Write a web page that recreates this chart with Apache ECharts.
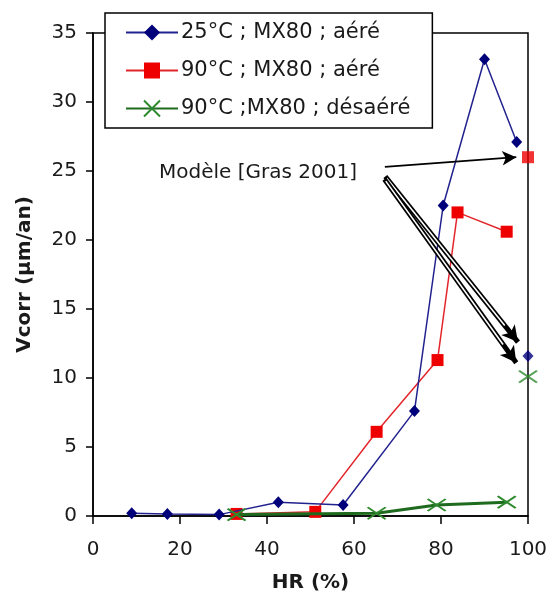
<!DOCTYPE html>
<html>
<head>
<meta charset="utf-8">
<script src="https://cdn.jsdelivr.net/npm/echarts@6/dist/echarts.min.js"></script>
<style>
  html, body { margin: 0; padding: 0; background: #ffffff; }
  #chart { width: 549px; height: 591px; }
</style>
</head>
<body>
<div id="chart"></div>
<script>
// Corrosion rate versus relative humidity, MX80 bentonite
const seriesNames = ['25°C ; MX80 ; aéré', '90°C ; MX80 ; aéré', '90°C ;MX80 ; désaéré'];

// [HR (%), Vcorr (µm/an)]
const blue25Aere = [[8.9, 0.2], [17.1, 0.15], [29, 0.1], [42.6, 1.0], [57.5, 0.8], [73.9, 7.6], [80.5, 22.5], [90, 33.1], [97.4, 27.1]];
const red90Aere = [[33, 0.15], [51.1, 0.3], [65.2, 6.1], [79.2, 11.3], [83.8, 22.0], [95.1, 20.6]];
const green90Desaere = [[33, 0.1], [65.2, 0.2], [79, 0.8], [95.1, 1.0]];

// Model values [Gras 2001] at HR = 100 %
const modelBlue = [[100, 11.6]];
const modelRed = [[100, 26.0]];
const modelGreen = [[100, 10.1]];

const annotationText = 'Modèle [Gras 2001]';
// Arrows from the annotation to the model points, in data units
const arrowToRed = [[67.1, 25.3], [97.3, 26.0]];
const arrowToBlue = [[67.2, 24.6], [97.7, 12.6]];
const arrowToGreen = [[67.0, 24.4], [97.3, 11.1]];

const xTicks = { min: 0, max: 100, interval: 20 };
const yTicks = { min: 0, max: 35, interval: 5 };

const FONT = 'DejaVu Sans';
const INK = '#1a1a1a';
const BLUE_LINE = '#22228f', BLUE_MARK = '#00007a';
const RED_LINE = '#e3262b', RED_MARK = '#ee0000';
const GREEN_LINE = '#1e6a1e', GREEN_MARK = '#2f8a2f';
const X_PATH = 'path://M0,0L12,8M12,0L0,8';

const chart = echarts.init(document.getElementById('chart'), null, { renderer: 'canvas' });

// point a fraction t of the way along an arrow
function along(pair, t) {
  return [pair[0][0] + (pair[1][0] - pair[0][0]) * t, pair[0][1] + (pair[1][1] - pair[0][1]) * t];
}

// Hollow (double-stroke) arrow: thick black shaft, white core, black head
function hollowArrow(pair) {
  return [
    [
      { coord: pair[0], symbol: 'none', lineStyle: { width: 5, color: '#000' } },
      { coord: pair[1], symbol: 'arrow', symbolSize: [13, 16] }
    ],
    [
      { coord: along(pair, 0.01), symbol: 'none', lineStyle: { width: 1.6, color: '#ffffff' } },
      { coord: along(pair, 0.9), symbol: 'none' }
    ]
  ];
}

const option = {
  backgroundColor: '#ffffff',
  animation: false,
  textStyle: { fontFamily: FONT, color: INK },
  grid: {
    left: 93, right: 21, top: 33, bottom: 75,
    outerBoundsMode: 'none', containLabel: false,
    show: true, borderColor: '#000', borderWidth: 1.5, backgroundColor: 'transparent'
  },
  legend: {
    data: seriesNames,
    orient: 'vertical',
    left: 105, top: 13,
    padding: [9, 22, 9, 20],
    itemGap: 17,
    itemWidth: 52, itemHeight: 20,
    backgroundColor: '#ffffff',
    borderColor: '#000', borderWidth: 1.5, borderRadius: 0,
    textStyle: { fontFamily: FONT, fontSize: 21, color: INK, padding: [0, 0, 0, -2] },
    z: 10
  },
  xAxis: {
    type: 'value',
    min: xTicks.min, max: xTicks.max, interval: xTicks.interval,
    name: 'HR (%)', nameLocation: 'middle', nameGap: 57,
    nameTextStyle: { fontFamily: FONT, fontSize: 20, fontWeight: 'bold', color: INK },
    axisLine: { show: true, lineStyle: { color: '#000', width: 1.5 } },
    axisTick: { show: true, length: 8, lineStyle: { color: '#000', width: 1.5 } },
    axisLabel: { fontFamily: FONT, fontSize: 20, color: INK, margin: 24 },
    splitLine: { show: false }
  },
  yAxis: {
    type: 'value',
    min: yTicks.min, max: yTicks.max, interval: yTicks.interval,
    name: 'Vcorr (µm/an)', nameLocation: 'middle', nameGap: 58, nameRotate: 90,
    nameTextStyle: { fontFamily: FONT, fontSize: 20, fontWeight: 'bold', color: INK },
    axisLine: { show: true, lineStyle: { color: '#000', width: 1.5 } },
    axisTick: { show: true, length: 7, lineStyle: { color: '#000', width: 1.5 } },
    axisLabel: { fontFamily: FONT, fontSize: 20, color: INK, margin: 16 },
    splitLine: { show: false }
  },
  series: [
    {
      name: seriesNames[0], type: 'line', data: blue25Aere,
      symbol: 'diamond', symbolSize: [11, 12],
      lineStyle: { color: BLUE_LINE, width: 1.5 },
      itemStyle: { color: BLUE_MARK },
      z: 3
    },
    {
      name: seriesNames[1], type: 'line', data: red90Aere,
      symbol: 'rect', symbolSize: 12,
      lineStyle: { color: RED_LINE, width: 1.5 },
      itemStyle: { color: RED_MARK },
      z: 2
    },
    {
      name: seriesNames[2], type: 'line', data: green90Desaere,
      symbol: X_PATH, symbolSize: [18, 12],
      lineStyle: { color: GREEN_LINE, width: 3 },
      itemStyle: { color: 'rgba(0,0,0,0)', borderColor: GREEN_MARK, borderWidth: 2 },
      z: 4
    },
    {
      name: 'modelBlue', type: 'scatter', data: modelBlue, clip: false,
      symbol: 'diamond', symbolSize: [11, 12],
      itemStyle: { color: BLUE_MARK }, z: 5
    },
    {
      name: 'modelRed', type: 'scatter', data: modelRed, clip: false,
      symbol: 'rect', symbolSize: 12,
      itemStyle: { color: RED_MARK }, z: 5
    },
    {
      name: 'modelGreen', type: 'scatter', data: modelGreen, clip: false,
      symbol: X_PATH, symbolSize: [18, 12],
      itemStyle: { color: 'rgba(0,0,0,0)', borderColor: GREEN_MARK, borderWidth: 2 }, z: 5,
      // Arrows from the model annotation
      markLine: {
        silent: true, animation: false,
        label: { show: false },
        lineStyle: { color: '#000', width: 1.8, type: 'solid' },
        data: [
          [
            { coord: arrowToRed[0], symbol: 'none' },
            { coord: arrowToRed[1], symbol: 'arrow', symbolSize: [11, 14] }
          ],
          ...hollowArrow(arrowToBlue),
          ...hollowArrow(arrowToGreen)
        ]
      }
    }
  ],
  graphic: [
    {
      type: 'text', left: 159, top: 163, z: 20,
      style: { text: annotationText, fontFamily: FONT, fontSize: 20, fill: INK }
    }
  ]
};

chart.setOption(option);
</script>
</body>
</html>
